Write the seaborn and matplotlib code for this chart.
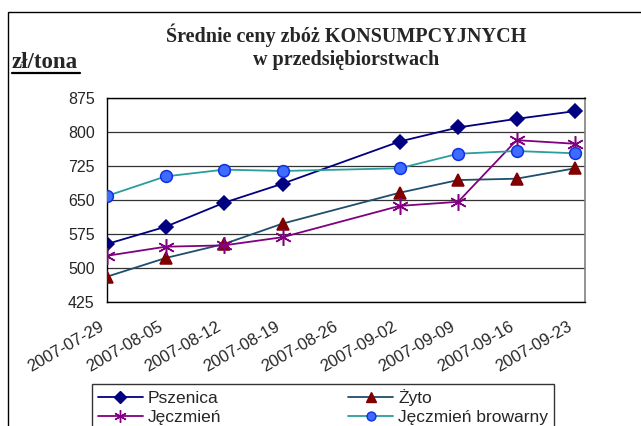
import pandas as pd
import matplotlib
matplotlib.use("Agg")
import matplotlib.pyplot as plt
import matplotlib.dates as mdates
from matplotlib.lines import Line2D
from matplotlib.patches import Rectangle
from matplotlib.transforms import ScaledTranslation
import seaborn as sns

# weekly dates on the axis, data only where a price was reported (no 08-26)
tick_dates = pd.date_range("2007-07-29", "2007-09-23", freq="7D")
dates = pd.to_datetime(["2007-07-29", "2007-08-05", "2007-08-12", "2007-08-19",
                        "2007-09-02", "2007-09-09", "2007-09-16", "2007-09-23"])

pszenica = [553, 591, 644, 686, 779, 810, 829, 846]
zyto = [481, 522, 553, 598, 666, 694, 697, 720]
jeczmien = [527, 547, 550, 568, 637, 646, 782, 774]
browarny = [659, 702, 717, 714, 720, 752, 758, 753]

y_ticks = [425, 500, 575, 650, 725, 800, 875]

sns.set_style("white")
plt.rcParams['font.family'] = ['Liberation Sans', 'DejaVu Sans']

fig = plt.figure(figsize=(6.41, 4.26), dpi=100)
ax = fig.add_axes([0.167, 0.291, 0.746, 0.479])

series = [
    ("Pszenica", pszenica, "#000080", "D", "#000080", "#000080", 7.5),
    ("Żyto", zyto, "#1f4e6e", "^", "#800000", "#800000", 9),
    ("Jęczmień", jeczmien, "#800080", (6, 2, 0), "#800080", "#800080", 12),
    ("Jęczmień browarny", browarny, "#2a9d9d", "o", "#3d6cff", "#1030e0", 8.5),
]

handles = {}
for name, vals, col, mk, mfc, mec, ms in series:
    df = pd.DataFrame({"data": dates, "cena": vals})
    sns.lineplot(data=df, x="data", y="cena", ax=ax, color=col, linewidth=1.3,
                 marker=mk, markerfacecolor=mfc, markeredgecolor=mec,
                 markersize=ms, markeredgewidth=1.1, zorder=3)
    handles[name] = Line2D([], [], color=col, linewidth=1.3, marker=mk,
                           markerfacecolor=mfc, markeredgecolor=mec,
                           markersize=ms * 0.75, markeredgewidth=1.0, label=name)

ax.set_ylim(425, 875)
ax.set_yticks(y_ticks)
ax.set_xlim(tick_dates[0], tick_dates[-1] + pd.Timedelta(hours=29))
ax.set_xticks(tick_dates)
ax.xaxis.set_major_formatter(mdates.DateFormatter("%Y-%m-%d"))
ax.set_xlabel("")
ax.set_ylabel("")
ax.grid(axis="y", color="#333333", linewidth=0.9)
ax.grid(axis="x", visible=False)

ax.tick_params(axis="x", direction="inout", length=7, labelsize=12, pad=9, color="black")
ax.tick_params(axis="y", direction="out", length=4, labelsize=11.5, pad=5, color="black")
shift = ScaledTranslation(-8 / 100, 0, fig.dpi_scale_trans)
for lab in ax.get_xticklabels():
    lab.set_rotation(30)
    lab.set_ha("right")
    lab.set_rotation_mode("anchor")
    lab.set_transform(lab.get_transform() + shift)

for side in ["left", "bottom", "top"]:
    ax.spines[side].set_color("black")
    ax.spines[side].set_linewidth(1.0)
ax.spines["right"].set_color("#808080")
ax.spines["right"].set_linewidth(1.2)

# outer chart frame (cut by the image edge on right and bottom)
fig.add_artist(Rectangle((0.0125, -0.05), 1.1, 1.022, transform=fig.transFigure,
                         fill=False, edgecolor="black", linewidth=1.0))

fig.text(0.54, 0.918, "Średnie ceny zbóż KONSUMPCYJNYCH", ha="center", va="center",
         fontsize=14.5, fontweight="bold", family="Liberation Serif")
fig.text(0.54, 0.858, "w przedsiębiorstwach", ha="center", va="center",
         fontsize=14.5, fontweight="bold", family="Liberation Serif")
fig.text(0.018, 0.84, "zł/tona", ha="left", va="baseline",
         fontsize=16.5, fontweight="bold", family="Liberation Serif")
fig.add_artist(Line2D([0.018, 0.125], [0.828, 0.828], transform=fig.transFigure,
                      color="black", linewidth=1.6))

# column-major order so rows read Pszenica/Żyto, Jęczmień/Jęczmień browarny
order = ["Pszenica", "Jęczmień", "Żyto", "Jęczmień browarny"]
leg = fig.legend(handles=[handles[k] for k in order], loc="upper left", ncol=2,
                 bbox_to_anchor=(0.144, 0.099), fontsize=12.5,
                 frameon=True, fancybox=False, handlelength=2.6,
                 borderpad=0.3, labelspacing=0.22, handletextpad=0.3,
                 columnspacing=7.3, borderaxespad=0.0)
leg.get_frame().set_edgecolor("black")
leg.get_frame().set_linewidth(1.0)

fig.savefig("out.png", dpi=100)
